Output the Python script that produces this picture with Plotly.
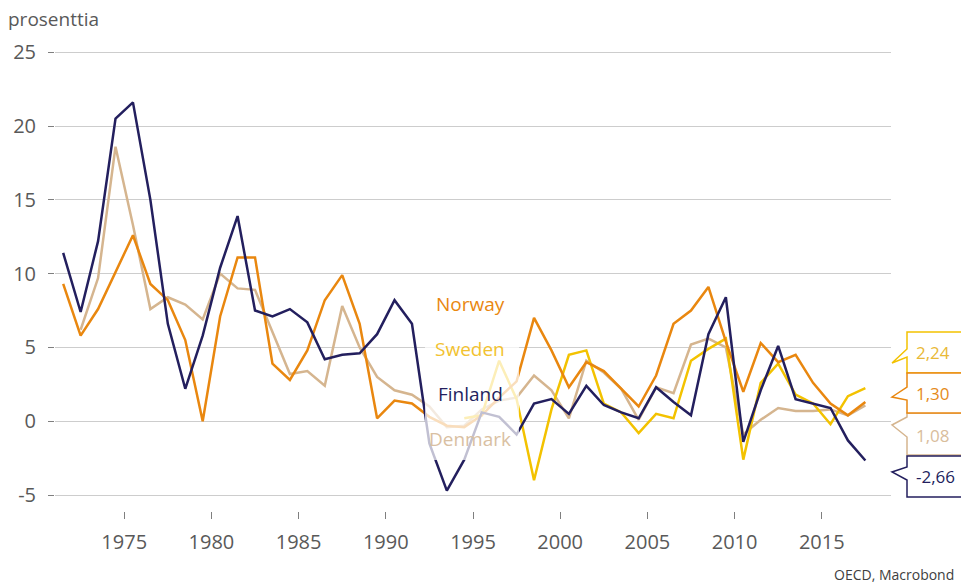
import plotly.graph_objects as go

years = list(range(1971, 2018))

finland = [11.4, 7.4, 12.2, 20.5, 21.6, 15.0, 6.6, 2.2, 5.8, 10.4,
           13.9, 7.5, 7.1, 7.6, 6.7, 4.2, 4.5, 4.6, 5.9, 8.2,
           6.6, -1.5, -4.7, -2.6, 0.6, 0.3, -0.9, 1.2, 1.5, 0.5,
           2.4, 1.1, 0.6, 0.2, 2.3, 1.3, 0.4, 5.9, 8.4, -1.4,
           2.1, 5.1, 1.5, 1.2, 0.9, -1.3, -2.66]
norway = [9.3, 5.8, 7.6, 10.1, 12.6, 9.3, 8.2, 5.5, 0.0, 7.1,
          11.1, 11.1, 3.9, 2.8, 4.8, 8.2, 9.9, 6.6, 0.2, 1.4,
          1.2, 0.3, -0.3, -0.4, 0.4, 1.6, 2.7, 7.0, 4.8, 2.3,
          4.0, 3.4, 2.2, 1.0, 3.1, 6.6, 7.5, 9.1, 5.4, 2.0,
          5.3, 4.0, 4.5, 2.6, 1.2, 0.4, 1.30]
sweden = [None] * 23 + [0.2, 0.4, 4.1, 1.5, -4.0, 0.8, 4.5,
                        4.8, 1.2, 0.6, -0.8, 0.5, 0.2, 4.1, 4.9, 5.6, -2.6,
                        2.6, 3.9, 1.8, 1.2, -0.2, 1.7, 2.24]
denmark = [None, 6.2, 9.7, 18.6, 13.3, 7.6, 8.4, 7.9, 6.9, 10.0,
           9.0, 8.9, 6.1, 3.2, 3.4, 2.4, 7.8, 5.0, 3.0, 2.1,
           1.8, 1.0, -0.4, -0.3, 0.8, 1.4, 1.6, 3.1, 2.1, 0.2,
           4.1, 3.3, 2.2, 0.1, 2.3, 1.9, 5.2, 5.6, 5.0, -0.9,
           0.1, 0.9, 0.7, 0.7, 0.8, 0.4, 1.08]

ytick_vals = [-5, 0, 5, 10, 15, 20, 25]
ytick_text = ["-5", "0", "5", "10", "15", "20", "25"]
xtick_vals = [1975, 1980, 1985, 1990, 1995, 2000, 2005, 2010, 2015]

end_labels = ["2,24", "1,30", "1,08", "-2,66"]

C_FIN = "#231f5e"
C_NOR = "#e9870f"
C_SWE = "#f3c200"
C_DEN = "#d5b58f"

# data plotted at mid-year
xpos = [y + 0.5 for y in years]

FONT = "Open Sans"

fig = go.Figure()
for name, vals, col in [("Denmark", denmark, C_DEN), ("Sweden", sweden, C_SWE),
                        ("Norway", norway, C_NOR), ("Finland", finland, C_FIN)]:
    fig.add_trace(go.Scatter(x=xpos, y=vals, mode="lines", name=name,
                             line=dict(color=col, width=2.5),
                             connectgaps=False, hoverinfo="skip"))

# plot-area pixel geometry
W, H = 961, 583
L, R, T, B = 55, 891, 50, 511


def px(xp):
    return (xp - L) / (R - L)


def py(yp):
    return (B - yp) / (B - T)


shapes = []
# semi-transparent label background in the plot
shapes.append(dict(type="rect", xref="paper", yref="paper", layer="above",
                   x0=px(425), x1=px(519), y0=py(460), y1=py(282),
                   fillcolor="rgba(255,255,255,0.72)", line=dict(width=0)))


def callout(top, bot, t1, tip, t2, color):
    xo = px(1010)
    xl = px(907)
    xt = px(892)
    path = (f"M {xo},{py(top)} L {xl},{py(top)} L {xl},{py(t1)} "
            f"L {xt},{py(tip)} L {xl},{py(t2)} L {xl},{py(bot)} L {xo},{py(bot)}")
    return dict(type="path", xref="paper", yref="paper", path=path,
                fillcolor="white", line=dict(color=color, width=1.5), layer="above")


shapes.append(callout(413, 455, 417, 425, 437, C_DEN))
shapes.append(callout(332, 373, 349, 363, 357, C_SWE))
shapes.append(callout(456, 497, 467, 472, 480, C_FIN))
shapes.append(callout(373, 413, 387, 397, 400, C_NOR))

annotations = []
for txt, ypx, col in [("Norway", 304, "#e9870f"), ("Sweden", 349, "#f2c230"),
                      ("Finland", 394, C_FIN), ("Denmark", 439, "#d9c0a2")]:
    annotations.append(dict(text=txt, xref="paper", yref="paper", x=px(470), y=py(ypx),
                            xanchor="center", yanchor="middle", showarrow=False,
                            font=dict(family=FONT, size=19, color=col)))

for txt, ypx, col in zip(end_labels, [352, 393, 435, 476],
                         ["#e9b936", "#e58a1a", "#d9bd9c", C_FIN]):
    annotations.append(dict(text=txt, xref="paper", yref="paper", x=px(914), y=py(ypx),
                            xanchor="left", yanchor="middle", showarrow=False,
                            font=dict(family=FONT, size=17, color=col)))

annotations.append(dict(text="prosenttia", xref="paper", yref="paper",
                        x=px(6), y=py(19), xanchor="left", yanchor="middle",
                        showarrow=False, font=dict(family=FONT, size=19, color="#595959")))
annotations.append(dict(text="OECD, Macrobond", xref="paper", yref="paper",
                        x=px(956), y=py(574), xanchor="right", yanchor="middle",
                        showarrow=False, font=dict(family=FONT, size=14, color="#404040")))

fig.update_layout(
    width=W, height=H,
    margin=dict(l=L, r=W - R, t=T, b=H - B, pad=0),
    paper_bgcolor="white", plot_bgcolor="white",
    showlegend=False,
    font=dict(family=FONT, color="#595959"),
    shapes=shapes, annotations=annotations,
    xaxis=dict(range=[1971.03, 2018.97], tickvals=xtick_vals,
               ticks="outside", ticklen=7, tickwidth=1, tickcolor="#7f7f7f",
               ticklabelstandoff=6,
               showgrid=False, zeroline=False, showline=False,
               tickfont=dict(family=FONT, size=20, color="#595959")),
    yaxis=dict(range=[-6.08, 25.15], tickvals=ytick_vals, ticktext=ytick_text,
               ticks="outside", ticklen=6, tickwidth=1, tickcolor="#7f7f7f",
               ticklabelstandoff=8,
               showgrid=True, gridcolor="#cdcdcd", gridwidth=1.3,
               zeroline=False, showline=False,
               tickfont=dict(family=FONT, size=20, color="#595959")),
)

fig.write_html("out.html", config={"displayModeBar": False},
               post_script="document.body.style.margin='0';document.body.style.overflow='hidden';")
